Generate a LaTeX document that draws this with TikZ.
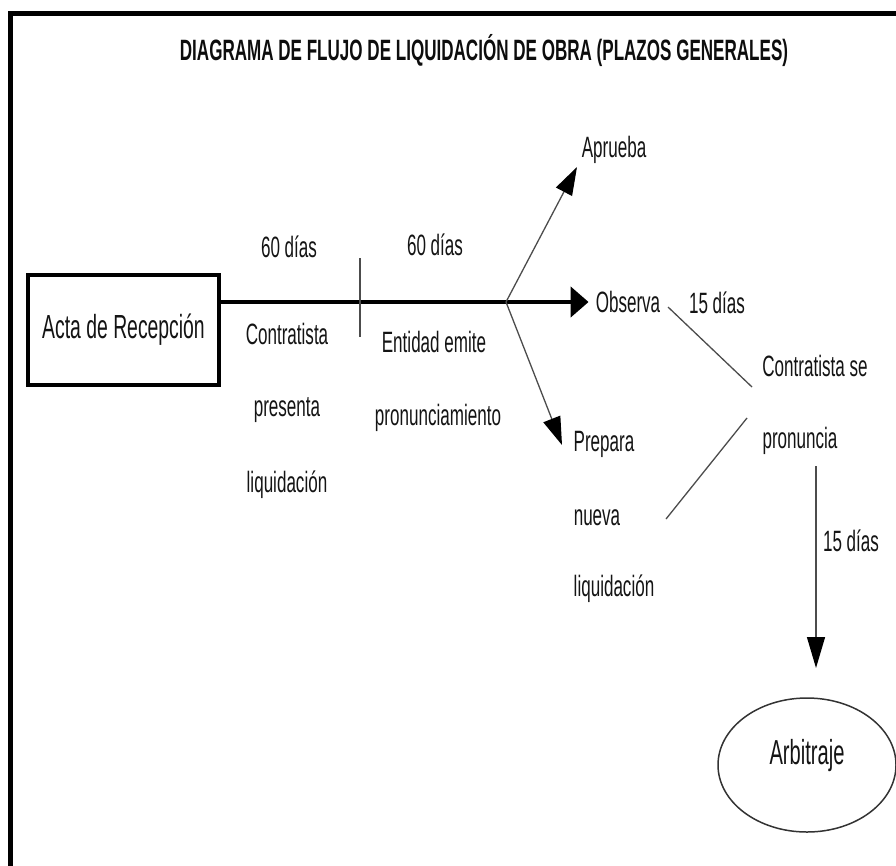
\documentclass[tikz,border=0pt]{standalone}
\usepackage{fontspec}
\setmainfont[FakeStretch=0.58]{Liberation Sans}
\usetikzlibrary{arrows.meta,shapes.geometric}
\begin{document}
\begin{tikzpicture}[x=1pt,y=-1pt,
  lbl/.style={inner sep=0pt, font=\fontsize{29.4}{31}\selectfont, text=black!92},
  ttl/.style={inner sep=0pt, font=\bfseries\fontsize{29.4}{31}\selectfont, text=black!95},
  thinln/.style={draw=black!70, line width=1.3pt},
  thinarrow/.style={thinln, -{Triangle[length=28pt,width=18pt,color=black]}},
  downarrow/.style={thinln, -{Triangle[length=31pt,width=18pt,color=black]}},
  mainarrow/.style={draw=black, line width=4.5pt, -{Triangle[length=18pt,width=30pt]}},
  framebox/.style={draw=black, line width=4pt, inner sep=0pt},
  ovalbox/.style={ellipse, draw=black!80, line width=1.5pt, inner sep=0pt}]
\useasboundingbox (0,0) rectangle (896,865);
% outer frame
\draw[line width=5pt, line cap=rect] (10.5,866) -- (10.5,13.5) -- (897,13.5);
% title
\node[ttl] (title) at (484,51) {DIAGRAMA DE FLUJO DE LIQUIDACIÓN DE OBRA (PLAZOS GENERALES)};
% nodes
\node[framebox, minimum width=191pt, minimum height=110pt, font=\fontsize{33.4}{36}\selectfont, text=black!92] (acta) at (123.5,330) {Acta de Recepción};
\node[lbl] (d1) at (289,247) {60 días};
\node[lbl] (d2) at (435,245) {60 días};
\node[lbl] (c1) at (287,334) {Contratista};
\node[lbl] (c2) at (287,410) {presenta};
\node[lbl] (c3) at (287,485) {liquidación};
\node[lbl] (e1) at (434,342) {Entidad emite};
\node[lbl] (e2) at (438,418) {pronunciamiento};
\node[lbl] (apr) at (614,150) {Aprueba};
\node[lbl] (obs) at (628,302) {Observa};
\node[lbl] (d3) at (717,303) {15 días};
\node[lbl] (cs1) at (815,366) {Contratista se};
\node[lbl] (cs2) at (800,441) {pronuncia};
\node[lbl] (p1) at (604,444) {Prepara};
\node[lbl] (p2) at (597,518) {nueva};
\node[lbl] (p3) at (614,589) {liquidación};
\node[lbl] (d4) at (851,541) {15 días};
\node[ovalbox, minimum width=178pt, minimum height=134pt, font=\fontsize{34.7}{37}\selectfont, text=black!92, text height=24pt, text depth=25pt] (arb) at (807,765) {Arbitraje};
% coordinates
\coordinate (br) at (506,302);
\coordinate (t1) at (360,258);
\coordinate (t2) at (360,337);
\coordinate (aprtip) at (577,167);
\coordinate (pretip) at (562,445);
\coordinate (o1) at (668,307);
\coordinate (o2) at (752,387);
\coordinate (n1) at (666,519);
\coordinate (n2) at (747,418);
\coordinate (v1) at (816,466);
\coordinate (v2) at (816,668);
% connectors
\draw[mainarrow] (acta.east |- br) -- ([xshift=-7pt]obs.west |- br);
\draw[thinln] (t1) -- (t2);
\draw[thinarrow] (br) -- (aprtip);
\draw[thinarrow] (br) -- (pretip);
\draw[thinln] (o1) -- (o2);
\draw[thinln] (n1) -- (n2);
\draw[downarrow] (v1) -- (v2);
\end{tikzpicture}
\end{document}
